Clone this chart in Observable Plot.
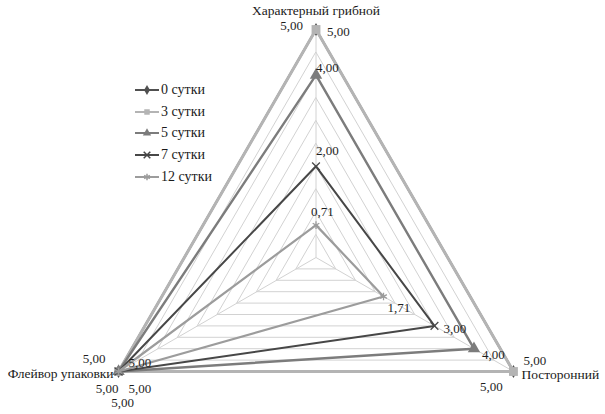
<!DOCTYPE html>
<html><head><meta charset="utf-8">
<script src="https://cdn.jsdelivr.net/npm/d3@7"></script>
<script src="https://cdn.jsdelivr.net/npm/@observablehq/plot@0.6"></script>
<style>
body{margin:0;background:#fff;}
#wrap{position:relative;width:605px;height:414px;font-family:"Liberation Serif","Times New Roman",serif;}
#legend{position:absolute;left:134px;top:79px;font-size:14px;color:#1a1a1a;}
.row{display:flex;align-items:center;height:21.8px;}
.row svg{display:block;margin-right:1px;}
</style></head><body><div id="wrap"></div>
<script>
// ---- data ----
const axes = ["Характерный грибной", "Посторонний", "Флейвор упаковки"];
const seriesNames = ["0 сутки", "3 сутки", "5 сутки", "7 сутки", "12 сутки"];
const values0 = [5, 5, 5];
const values3 = [5, 5, 5];
const values5 = [4, 4, 5];
const values7 = [2, 3, 5];
const values12 = [0.71, 1.71, 5];
const gridLevels = [0.5, 1, 1.5, 2, 2.5, 3, 3.5, 4, 4.5, 5];
const maxValue = 5;

// ---- styles ----
const seriesValues = [values0, values3, values5, values7, values12];
const colors = ["#505050", "#b4b4b4", "#7c7c7c", "#474747", "#9c9c9c"];
const widths = [2.2, 3, 2.4, 2, 2.2];
const symbols = ["diamond", "square", "triangle", "times", "asterisk"];
const symR = [4, 5, 4.6, 3.6, 3.6];
// label placement per series (rows) and axis (cols): [anchor, dx, dy]
const labelPos = [
  [["end", -13, -4], ["start", 10, -11], ["end", -13, -13]],
  [["start", 11, 2], ["middle", -22, 15], ["start", 10, -9]],
  [["start", 0, -7], ["start", 8, 6], ["end", 0, 17]],
  [["start", 0, -15], ["start", 9, 3], ["start", 10, 17]],
  [["start", -5, -13], ["start", 4, 11], ["middle", 4, 31]]
];

const angle = i => i * 2 * Math.PI / axes.length;
const px = (v, i) => v * Math.sin(angle(i));
const py = (v, i) => v * Math.cos(angle(i));
const fmt = v => d3.format(".2f")(v).replace(".", ",");

const marks = [];
// grid rings
const rings = gridLevels.flatMap(l => axes.map((a, i) => ({level: l, x: px(l, i), y: py(l, i)})));
marks.push(Plot.line(rings, {x: "x", y: "y", z: "level", curve: "linear-closed", stroke: "#d2d2d2", strokeWidth: 1}));
// spokes
marks.push(Plot.link(axes, {x1: () => 0, y1: () => 0, x2: (d, i) => px(maxValue, i), y2: (d, i) => py(maxValue, i), stroke: "#d2d2d2", strokeWidth: 1}));

// series
seriesValues.forEach((vals, s) => {
  const pts = vals.map((v, i) => ({v, i, x: px(v, i), y: py(v, i)}));
  marks.push(Plot.line(pts, {x: "x", y: "y", curve: "linear-closed", stroke: colors[s], strokeWidth: widths[s]}));
  const stroked = symbols[s] === "times" || symbols[s] === "asterisk";
  marks.push(Plot.dot(pts, {x: "x", y: "y", symbol: () => symbols[s], r: symR[s],
    fill: stroked ? "none" : colors[s], stroke: stroked ? colors[s] : "none", strokeWidth: 1.3}));
});
// value labels
seriesValues.forEach((vals, s) => {
  vals.forEach((v, i) => {
    const [anchor, dx, dy] = labelPos[s][i];
    marks.push(Plot.text([{v, i}], {x: d => px(d.v, d.i), y: d => py(d.v, d.i), text: d => fmt(d.v),
      textAnchor: anchor, dx, dy, fill: "#1e1e1e", fontSize: 13}));
  });
});
// axis titles
marks.push(Plot.text([axes[0]], {x: () => px(maxValue, 0), y: () => py(maxValue, 0), text: d => d, dy: -19, textAnchor: "middle", fill: "#1a1a1a", fontSize: 13.5}));
marks.push(Plot.text([axes[1]], {x: () => px(maxValue, 1), y: () => py(maxValue, 1), text: d => d, dx: 8, dy: 3, textAnchor: "start", fill: "#1a1a1a", fontSize: 13.5}));
marks.push(Plot.text([axes[2]], {x: () => px(maxValue, 2), y: () => py(maxValue, 2), text: d => d, dx: -5, dy: 2, textAnchor: "end", fill: "#1a1a1a", fontSize: 13.5}));

const unit = 45.6, cx = 315.5, cy = 257;
const chart = Plot.plot({
  width: 605, height: 414, margin: 0,
  x: {domain: [-cx / unit, (605 - cx) / unit], axis: null},
  y: {domain: [-(414 - cy) / unit, cy / unit], axis: null},
  style: {fontFamily: "'Liberation Serif','Times New Roman',serif", background: "white"},
  marks
});
const wrap = document.getElementById("wrap");
wrap.appendChild(chart);

// legend
const legend = document.createElement("div");
legend.id = "legend";
const d3sym = {diamond: d3.symbolDiamond, square: d3.symbolSquare, triangle: d3.symbolTriangle, times: d3.symbolTimes, asterisk: d3.symbolAsterisk};
seriesNames.forEach((name, s) => {
  const row = document.createElement("div");
  row.className = "row";
  const svg = d3.create("svg").attr("width", 26).attr("height", 12);
  svg.append("line").attr("x1", 1).attr("x2", 25).attr("y1", 6).attr("y2", 6).attr("stroke", colors[s]).attr("stroke-width", 2);
  const stroked = symbols[s] === "times" || symbols[s] === "asterisk";
  svg.append("path").attr("transform", "translate(13,6)").attr("d", d3.symbol(d3sym[symbols[s]], 30)())
    .attr("fill", stroked ? "none" : colors[s]).attr("stroke", stroked ? colors[s] : "none").attr("stroke-width", 1.5);
  row.appendChild(svg.node());
  const t = document.createElement("span");
  t.textContent = name;
  row.appendChild(t);
  legend.appendChild(row);
});
wrap.appendChild(legend);
</script>
</body></html>
